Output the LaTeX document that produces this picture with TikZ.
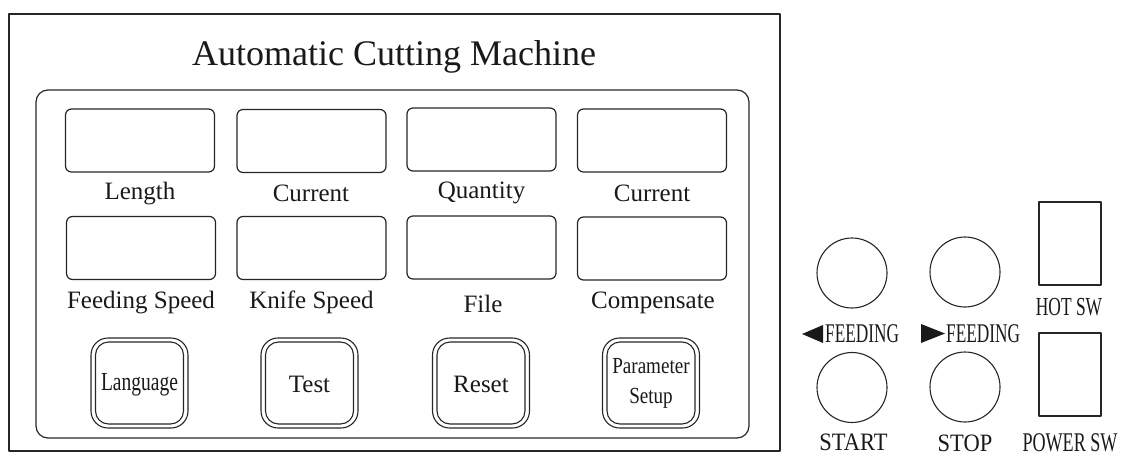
\documentclass[tikz,border=0pt]{standalone}
\usepackage{fontspec}
\setmainfont{Liberation Serif}
\newfontfamily\cnFeed[FakeStretch=0.64]{Liberation Serif}
\newfontfamily\cnSw[FakeStretch=0.67]{Liberation Serif}
\newfontfamily\cnLang[FakeStretch=0.75]{Liberation Serif}
\newfontfamily\cnParam[FakeStretch=0.83]{Liberation Serif}
\newfontfamily\cnSS[FakeStretch=0.9]{Liberation Serif}
\begin{document}
\begin{tikzpicture}[x=1pt,y=-1pt,line join=round,
  frame/.style={draw=black!85,line width=1.4pt},
  panel/.style={draw=black!85,line width=1.2pt,rounded corners=12pt},
  display/.style={draw=black!85,line width=1.2pt,rounded corners=6pt,
    minimum width=149pt,minimum height=63pt,inner sep=0pt},
  btnout/.style={draw=black!85,line width=1.1pt,rounded corners=17pt,
    minimum width=97pt,minimum height=90pt,inner sep=0pt},
  btnin/.style={draw=black!85,line width=1.1pt,rounded corners=13pt,
    minimum width=88pt,minimum height=82pt,inner sep=0pt},
  lbl/.style={anchor=base,inner sep=0pt,text=black!90,font=\fontsize{25}{30}\selectfont},
  knob/.style={circle,draw=black!85,line width=1.1pt,minimum size=70pt,inner sep=0pt},
  switch/.style={draw=black!85,line width=1.1pt,minimum width=62pt,inner sep=0pt}
]
\useasboundingbox (0,0) rectangle (1123,455);

% frames
\node[frame,minimum width=771pt,minimum height=437pt,inner sep=0pt] (outer) at (394.5,232.5) {};
\node[panel,minimum width=713pt,minimum height=348pt,inner sep=0pt] (panel) at (392.5,264) {};
\node[anchor=base,inner sep=0pt,text=black!90,font=\fontsize{36}{40}\selectfont] (title) at (394,65) {Automatic Cutting Machine};

% displays row 1
\node[display] (d1) at (140,140.5) {};
\node[display] (d2) at (311.5,141) {};
\node[display] (d3) at (481.5,139.5) {};
\node[display] (d4) at (652,140.5) {};
\node[lbl] (l1) at (140,199) {Length};
\node[lbl] (l2) at (311,201) {Current};
\node[lbl] (l3) at (481.5,198) {Quantity};
\node[lbl] (l4) at (652,201) {Current};

% displays row 2
\node[display] (d5) at (141,248) {};
\node[display] (d6) at (311.5,248) {};
\node[display] (d7) at (481.5,247.5) {};
\node[display] (d8) at (652,248.5) {};
\node[lbl] (l5) at (141,308) {Feeding Speed};
\node[lbl] (l6) at (311.5,308) {Knife Speed};
\node[lbl] (l7) at (483,312) {File};
\node[lbl] (l8) at (653,308) {Compensate};

% buttons
\node[btnout] (b1o) at (139.5,383) {};
\node[btnin]  (b1i) at (139.5,383) {};
\node[btnout] (b2o) at (309.5,383) {};
\node[btnin]  (b2i) at (309.5,383) {};
\node[btnout] (b3o) at (481,383) {};
\node[btnin]  (b3i) at (481,383) {};
\node[btnout] (b4o) at (651,383) {};
\node[btnin]  (b4i) at (651,383) {};
\node[anchor=base,inner sep=0pt,text=black!90,font=\fontsize{26}{30}\cnLang] (t1) at (139.5,390) {Language};
\node[lbl] (t2) at (309.5,392) {Test};
\node[lbl] (t3) at (481,392) {Reset};
\node[anchor=base,inner sep=0pt,text=black!90,font=\fontsize{23}{30}\cnParam] (t4a) at (651,373) {Parameter};
\node[anchor=base,inner sep=0pt,text=black!90,font=\fontsize{23}{30}\cnParam] (t4b) at (651,403) {Setup};

% right-hand controls
\node[knob] (k1) at (852,273) {};
\node[knob] (k2) at (965,272) {};
\node[knob] (k3) at (852,387.5) {};
\node[knob] (k4) at (965,387) {};
\fill[black!90] (802,334) -- (823,325) -- (823,343) -- cycle;
\fill[black!90] (945,333.5) -- (921,324) -- (921,343) -- cycle;
\node[anchor=base west,inner sep=0pt,text=black!90,font=\fontsize{27}{30}\cnFeed] (f1) at (825,342) {FEEDING};
\node[anchor=base west,inner sep=0pt,text=black!90,font=\fontsize{27}{30}\cnFeed] (f2) at (946,342) {FEEDING};
\node[anchor=base,inner sep=0pt,text=black!90,font=\fontsize{25}{30}\cnSS] (s1) at (853.5,450.5) {START};
\node[anchor=base,inner sep=0pt,text=black!90,font=\fontsize{25}{30}\cnSS] (s2) at (965,451) {STOP};

\node[switch,minimum height=83pt] (hot) at (1070,243.5) {};
\node[switch,minimum height=83pt] (pow) at (1070,374.5) {};
\node[anchor=base,inner sep=0pt,text=black!90,font=\fontsize{26}{30}\cnSw] (hl) at (1069,315) {HOT SW};
\node[anchor=base,inner sep=0pt,text=black!90,font=\fontsize{27}{30}\cnSw] (pl) at (1070,451) {POWER SW};
\end{tikzpicture}
\end{document}
